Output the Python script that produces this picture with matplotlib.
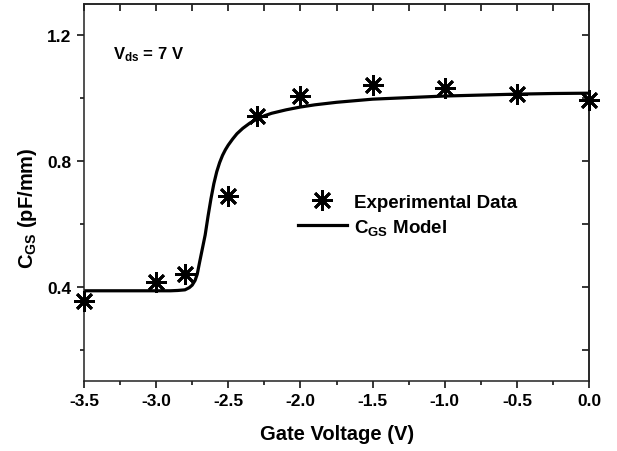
import matplotlib
matplotlib.use('Agg')
import matplotlib.pyplot as plt
import numpy as np
from matplotlib.ticker import MultipleLocator

plt.rcParams['font.family'] = ['Liberation Sans', 'DejaVu Sans']
plt.rcParams['font.weight'] = 'bold'
plt.rcParams['axes.unicode_minus'] = False
plt.rcParams['mathtext.fontset'] = 'custom'
plt.rcParams['mathtext.rm'] = 'Liberation Sans:bold'
plt.rcParams['mathtext.bf'] = 'Liberation Sans:bold'
plt.rcParams['mathtext.it'] = 'Liberation Sans:bold'

# measured points
vg_exp = [-3.5, -3.0, -2.8, -2.5, -2.3, -2.0, -1.5, -1.0, -0.5, 0.0]
cgs_exp = [0.356, 0.415, 0.441, 0.688, 0.944, 1.006, 1.041, 1.032, 1.013, 0.994]

# model curve
vg_model = [-3.5, -3.2, -2.9, -2.85, -2.80, -2.77, -2.75, -2.73, -2.715, -2.70,
            -2.68, -2.66, -2.64, -2.62, -2.60, -2.58, -2.56, -2.54, -2.52, -2.50,
            -2.47, -2.44, -2.40, -2.35, -2.30, -2.25, -2.20, -2.10, -2.0,
            -1.9, -1.75, -1.5, -1.25, -1.0, -0.75, -0.5, -0.25, 0.0]
cgs_model = [0.387, 0.387, 0.387, 0.388, 0.390, 0.397, 0.405, 0.420, 0.440, 0.475,
             0.520, 0.565, 0.625, 0.680, 0.728, 0.766, 0.795, 0.818, 0.836, 0.851,
             0.870, 0.887, 0.904, 0.921, 0.934, 0.944, 0.952, 0.963, 0.972,
             0.979, 0.987, 0.997, 1.002, 1.007, 1.010, 1.013, 1.015, 1.016]

fig = plt.figure(figsize=(6.17, 4.52), dpi=100)
ax = fig.add_axes([0.136, 0.155, 0.819, 0.834])

ax.plot(vg_model, cgs_model, color='black', linewidth=2.3, label=r'C$_{\mathregular{GS}}$ Model',
        zorder=2, solid_joinstyle='round')
ax.plot(vg_exp, cgs_exp, linestyle='none', marker=(8, 2, 0), markersize=15,
        markeredgewidth=2.0, color='black', label='Experimental Data', zorder=3, clip_on=False)

ax.set_xlim(-3.5, 0.0)
ax.set_ylim(0.1, 1.3)
ax.xaxis.set_major_locator(MultipleLocator(0.5))
ax.xaxis.set_minor_locator(MultipleLocator(0.25))
ax.yaxis.set_major_locator(MultipleLocator(0.4))
ax.yaxis.set_minor_locator(MultipleLocator(0.2))
ax.set_yticks([0.4, 0.8, 1.2])
ax.tick_params(which='major', direction='out', length=5, width=1.1, labelsize=12.5, pad=4)
ax.tick_params(which='minor', direction='out', length=3, width=1.1)
for lab in ax.get_xticklabels() + ax.get_yticklabels():
    lab.set_fontweight('bold')

# mirrored ticks pointing inward on top and right
top = ax.secondary_xaxis('top')
top.set_xticks(np.arange(-3.5, 0.01, 0.25))
top.tick_params(direction='in', length=5, width=1.1, labeltop=False)
right = ax.secondary_yaxis('right')
right.set_yticks(np.arange(0.2, 1.21, 0.2))
right.tick_params(direction='in', length=5, width=1.1, labelright=False)

for sp in list(ax.spines.values()) + [top.spines['top'], right.spines['right']]:
    sp.set_linewidth(1.1)
    sp.set_color('#222222')

ax.set_xlabel('Gate Voltage (V)', fontsize=14.5, fontweight='bold', labelpad=11)
ax.set_ylabel(r'C$_{\mathregular{GS}}$ (pF/mm)', fontsize=14.5, fontweight='bold')
ax.yaxis.set_label_coords(-0.088, 0.46)

ax.text(0.057, 0.855, r'V$_{\mathregular{ds}}$ = 7 V', transform=ax.transAxes,
        fontsize=12, fontweight='bold')

handles, labels = ax.get_legend_handles_labels()
ax.legend(handles[::-1], labels[::-1], loc='upper left', bbox_to_anchor=(0.39, 0.541),
          frameon=False, handlelength=2.6, handletextpad=0.4,
          labelspacing=0.3, prop={'weight': 'bold', 'size': 13.5})

fig.savefig('out.png', dpi=100)
